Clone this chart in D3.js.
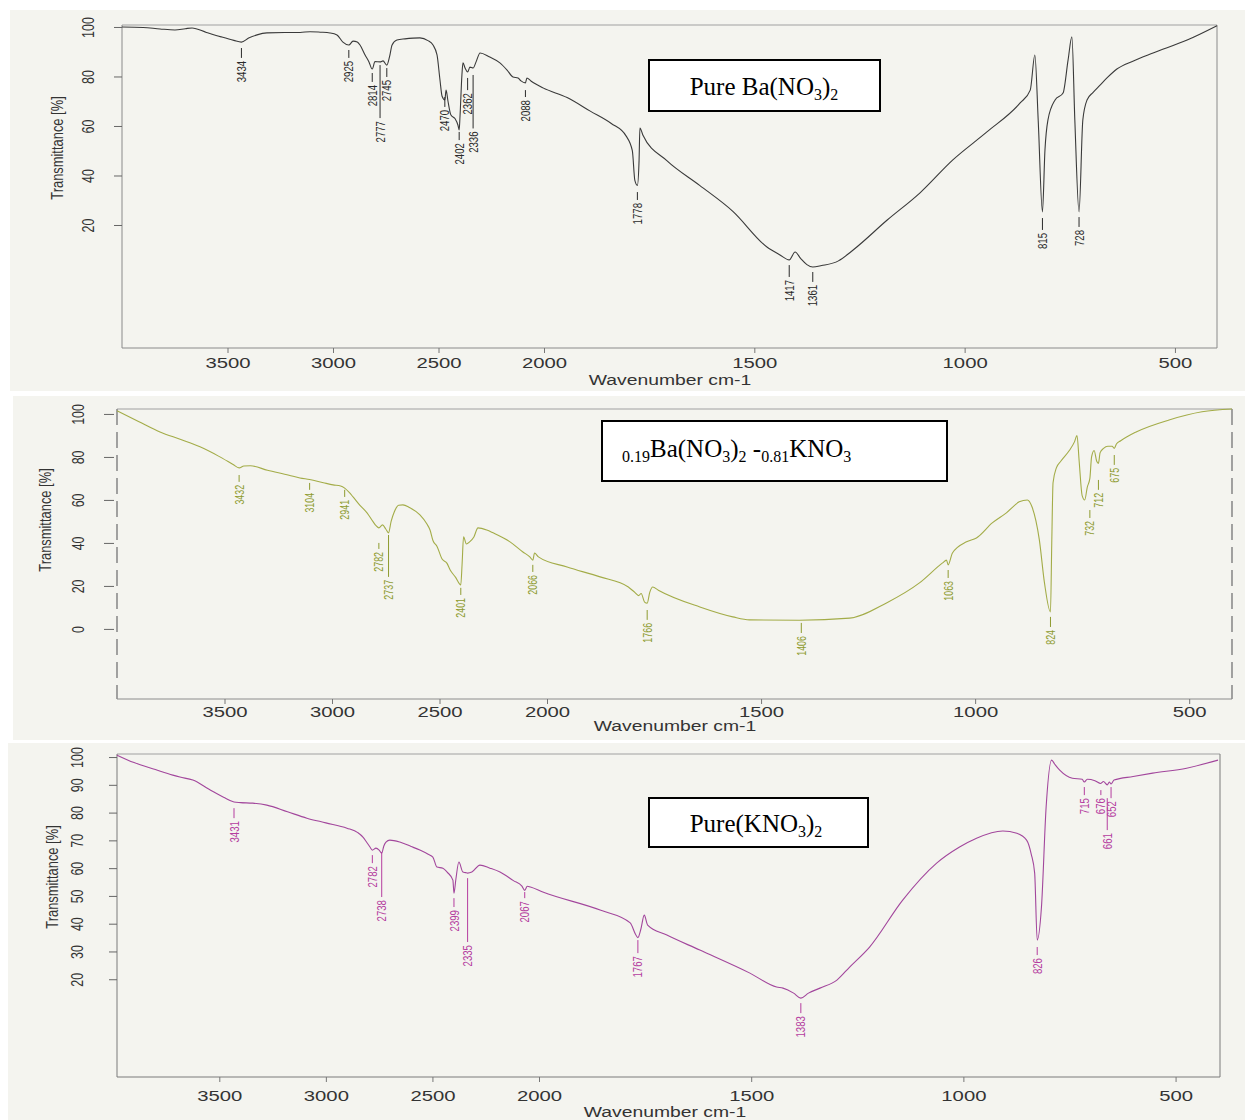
<!DOCTYPE html>
<html>
<head>
<meta charset="utf-8">
<script src="https://cdn.jsdelivr.net/npm/d3@7"></script>
<style>
	body{margin:0;background:#fff;}
	svg{display:block;}
</style>
</head>
<body>
<svg id="chart" width="1245" height="1120"></svg>
<script>
// ---- data: [wavenumber, transmittance %] ----
const baNitrate = [
	[4000,100],[3900,99.8],[3820,99.2],[3749,98.8],[3700,99.3],[3668,99.6],[3600,97.8],[3530,96],[3470,94.6],[3434,93.9],
	[3400,95.5],[3360,96.8],[3313,97.6],[3230,97.8],[3156,97.8],[3109,98.1],[3060,97.9],[3014,97.6],[2981,96.8],[2953,93.9],
	[2925,92.7],[2905,94.3],[2885,93.9],[2872,92.7],[2848,88.7],[2830,86],[2814,83],[2801,86],[2777,85.9],[2763,86.3],
	[2745,84.6],[2732,88],[2720,92.7],[2697,94.7],[2659,95.2],[2620,95.5],[2588,95.6],[2550,94.5],[2526,92.7],[2507,88.7],
	[2493,78.6],[2483,72],[2470,70.5],[2464,74.5],[2455,70],[2441,64.4],[2422,63],[2408,60.4],[2402,58.4],[2398,64],
	[2389,80.6],[2384,85.5],[2374,83.4],[2362,81.8],[2351,83.8],[2336,83.4],[2322,85.9],[2303,89.5],[2260,88],[2209,85.5],
	[2175,82.6],[2147,79.8],[2123,79.4],[2109,78.2],[2088,77.4],[2081,79.4],[2062,78.2],[2005,75.4],[1945,71.5],[1890,66],
	[1840,61],[1805,56],[1790,50],[1784,38],[1778,36],[1774,46],[1772,59.2],[1765,56.4],[1708,46],[1630,36],
	[1551,25.5],[1470,11.1],[1439,7.9],[1417,5.9],[1403,9.1],[1390,6.5],[1375,4],[1361,3],[1340,3.6],[1300,5.5],
	[1265,9.9],[1184,22],[1106,33],[1028,46.3],[947,57.6],[868,69.3],[844,74.5],[833,88.7],[825,62],[815,25.3],
	[809,50.3],[802,62.4],[785,70.5],[766,73.3],[754,86.7],[745,96],[738,62.4],[728,25.3],[719,62.4],[709,70.5],
	[695,73.5],[678,76.5],[661,79.5],[638,83],[600,86.2],[552,89.5],[471,94.7],[400,100.5]
];
const mixNitrate = [
	[4000,101.5],[3900,96.5],[3800,91.6],[3700,88],[3614,84.7],[3530,80.5],[3460,76.5],[3432,74.9],[3410,75.8],[3380,75.9],
	[3300,73.8],[3200,71.5],[3149,70.2],[3104,69.5],[3040,68],[2995,67],[2960,66.5],[2941,65.5],[2920,63.5],[2902,61.4],
	[2870,57.5],[2837,54],[2810,50],[2795,48],[2782,47],[2765,48.4],[2750,46.5],[2737,44.7],[2725,50],[2710,54.5],
	[2690,57.5],[2670,57.7],[2640,56.5],[2591,53],[2560,49],[2544,46],[2530,41],[2512,38.5],[2488,32.5],[2465,30.5],
	[2451,27.5],[2425,24],[2401,20.5],[2395,30],[2388,42.8],[2375,39.5],[2360,40.5],[2340,42.8],[2321,47],[2280,46],
	[2251,44.7],[2172,40.5],[2112,35.8],[2080,33.5],[2066,32],[2058,35.3],[2040,33.5],[1953,28.8],[1876,24.2],[1810,19.5],
	[1795,17],[1786,15.5],[1780,16.5],[1772,12.5],[1766,12],[1760,17],[1753,19.5],[1740,18],[1643,10.2],[1566,5.6],
	[1527,4.2],[1410,4],[1293,5],[1207,12.1],[1130,21.4],[1076,30.7],[1067,32],[1063,29.8],[1053,35.3],[1020,40.5],
	[997,42.3],[960,49.3],[927,54],[897,59.1],[878,60],[867,56.7],[850,41.4],[838,21.4],[824,7.9],[821,40],
	[818,68],[810,75],[800,78],[780,83],[768,87],[762,90],[757,78],[750,62],[744,60],[738,66],
	[732,70],[728,80],[722,83],[716,78],[712,77],[708,82],[700,84],[690,85],[680,85],[675,84],
	[670,86],[660,87.5],[624,91.6],[547,97.2],[470,101],[400,102.3]
];
const kNitrate = [
	[3980,100.7],[3900,98],[3800,95.5],[3718,93.5],[3685,92.8],[3624,91.7],[3550,88.5],[3480,85.5],[3431,83.8],[3400,83.6],
	[3343,83.4],[3277,82.7],[3180,80.3],[3089,78],[3000,76.3],[2901,74.4],[2850,72.8],[2826,71.2],[2810,69.5],[2793,67.6],
	[2782,66.5],[2765,67.2],[2750,66.5],[2738,65.4],[2728,68],[2718,69.4],[2700,70.1],[2653,69.4],[2600,67.8],[2559,66.5],
	[2520,65],[2498,64],[2479,60.4],[2451,60],[2430,58.5],[2404,55.7],[2399,51],[2390,56],[2376,62.2],[2357,58.6],
	[2345,58.4],[2335,58.2],[2315,58.6],[2277,61.1],[2230,60],[2183,58.6],[2120,55.5],[2080,53.5],[2067,52],[2055,53.5],
	[2040,53.2],[1991,51.4],[1856,44.9],[1785,40.3],[1772,36],[1767,35],[1760,38],[1752,43.1],[1744,39.5],[1700,36],
	[1621,30.5],[1503,22.2],[1440,17.2],[1425,16.8],[1400,15],[1383,13.2],[1365,15],[1338,16.8],[1298,19.7],[1268,24.4],
	[1221,31.6],[1143,48.5],[1063,61.8],[1009,67.6],[969,70.8],[907,73.4],[874,72.6],[851,70.1],[840,65],[832,58.2],
	[826,34.1],[816,46],[805,82],[792,98.9],[785,97.5],[773,95.3],[743,92.4],[720,92],[715,91],[708,92],
	[690,91.5],[676,90.5],[670,91.2],[661,90],[656,91],[652,90.3],[645,91.7],[600,93],[554,94.2],[474,96],
	[400,98.9]
];

// peak annotations: [wavenumber, dash top T, dash bottom T]
const baPeaks = [
	[3434,91.5,87.5],[2925,90.7,87.5],[2814,81.4,77.8],[2777,84.6,63.2],[2745,83.4,79.8],[2470,71.7,67.7],
	[2402,57.6,54.3],[2362,79.4,74.5],[2336,80.6,59],[2088,74.5,71.7],[1778,33.3,30.1],[1417,3.8,-1],
	[1361,1,-3],[815,22.8,18],[728,23.2,19.2]
];
const mixPeaks = [
	[3432,71.6,68.4],[3104,67.9,64.7],[2941,64.7,61.4],[2782,40,37.2],[2737,43.7,24.2],[2401,19.1,15.8],
	[2066,29.8,26.5],[1766,8.8,4.2],[1406,2.8,-1.9],[1063,27.4,23.7],[824,5.6,0.9],[732,55.3,51.6],
	[712,69.3,64.7],[675,80.9,76.3]
];
const kPeaks = [
	[3431,81.6,78],[2782,64.7,61.8],[2738,65.8,49.6],[2399,49.2,46],[2335,56.4,33.4],[2067,51.4,49.2],
	[1767,34.1,29.4],[1383,11.4,7.8],[826,31.6,28.7],[715,89.2,86.3],[676,88.1,86.3],[652,89.2,85.2],
	[661,85.2,73.7]
];

const xTicks = [3500,3000,2500,2000,1500,1000,500];
const yTicksBa = [20,40,60,80,100];
const yTicksMix = [0,20,40,60,80,100];
const yTicksK = [20,30,40,50,60,70,80,90,100];

// ---- layout ----
const panels = [
	{series:baNitrate, peaks:baPeaks, yTicks:yTicksBa,
	 bg:[10,10,1235,381], l:122, r:1217, t:25, b:348, xd:[4000,2000,400], xr:[122,544,1217], yd:[-29.7,100.8],
	 line:'#3a3a3a', ink:'#2a2a2a', frame:'#8a8a8a', dashed:false,
	 yLab:-34, yTitle:[57,148], tickLen:8, xLabY:20, xTitle:[670,385], lblSize:13,
	 box:{x:649,y:60,w:231,h:51}},
	{series:mixNitrate, peaks:mixPeaks, yTicks:yTicksMix,
	 bg:[13,396,1232,344], l:117, r:1232, t:409, b:699, xd:[4000,2000,400], xr:[117,547,1232], yd:[-32.6,102.3],
	 line:'#a3ac48', ink:'#8e9b30', frame:'#8c8c8c', dashed:true,
	 yLab:-39, yTitle:[45,520], tickLen:10, xLabY:18, xTitle:[675,731], lblSize:12,
	 box:{x:602,y:421,w:345,h:60}},
	{series:kNitrate, peaks:kPeaks, yTicks:yTicksK,
	 bg:[8,743,1237,377], l:117, r:1220, t:754, b:1077, xd:[3980,2000,400], xr:[117,539,1218], yd:[-15.2,101.1],
	 line:'#a2469c', ink:'#b53d9f', frame:'#7a7a7a', dashed:false,
	 yLab:-40, yTitle:[52,877], tickLen:8, xLabY:24, xTitle:[665,1117], lblSize:13,
	 box:{x:649,y:798,w:219,h:49}}
];

const svg = d3.select('#chart');
const sans = 'Liberation Sans, Arial, sans-serif';
const serif = 'Liberation Serif, Times New Roman, serif';

panels.forEach((p,pi)=>{
	const g = svg.append('g').classed('panel',true);
	g.append('rect')
		.attr('x',p.bg[0]).attr('y',p.bg[1]).attr('width',p.bg[2]).attr('height',p.bg[3])
		.attr('fill','#f4f4ef');

	const x = d3.scaleLinear().domain(p.xd).range(p.xr);
	const y = d3.scaleLinear().domain(p.yd).range([p.b,p.t]);

	// frame
	const fr = g.append('g').attr('stroke',p.frame).attr('fill','none');
	fr.append('line').attr('x1',p.l).attr('x2',p.r).attr('y1',p.t).attr('y2',p.t).attr('stroke','#a0a0a0');
	fr.append('line').attr('x1',p.l).attr('x2',p.r).attr('y1',p.b).attr('y2',p.b);
	fr.append('line').attr('x1',p.l).attr('x2',p.l).attr('y1',p.t).attr('y2',p.b)
		.attr('stroke-dasharray',p.dashed ? '16,7' : null).attr('stroke-width',p.dashed?1.6:1);
	fr.append('line').attr('x1',p.r).attr('x2',p.r).attr('y1',p.t).attr('y2',p.b)
		.attr('stroke-dasharray',p.dashed ? '16,7' : null).attr('stroke-width',p.dashed?1.6:1);

	// x axis
	const xa = g.append('g')
		.attr('transform',`translate(0,${p.b})`)
		.call(d3.axisBottom(x).tickValues(xTicks).tickSize(5).tickFormat(d3.format('d')));
	xa.select('.domain').remove();
	xa.selectAll('line').attr('stroke','#777');
	xa.selectAll('text')
		.attr('y',p.xLabY).attr('dy',0)
		.attr('transform','scale(1.45,1)')
		.attr('font-family',sans).attr('font-size',14).attr('fill','#333');

	g.append('text')
		.attr('transform',`translate(${p.xTitle[0]},${p.xTitle[1]}) scale(1.38,1)`)
		.attr('text-anchor','middle')
		.attr('font-family',sans).attr('font-size',14).attr('fill','#333')
		.text('Wavenumber cm-1');

	// y axis
	const ya = g.append('g')
		.attr('transform',`translate(${p.l - (p.dashed?3:0)},0)`)
		.call(d3.axisLeft(y).tickValues(p.yTicks).tickSize(p.tickLen));
	ya.select('.domain').remove();
	ya.selectAll('line').attr('stroke','#666');
	ya.selectAll('text')
		.attr('x',0).attr('dy',0)
		.attr('text-anchor','middle')
		.attr('dominant-baseline','central')
		.attr('transform',`translate(${p.yLab + (p.dashed?3:0)},0) rotate(-90) scale(0.78,1)`)
		.attr('font-family',sans).attr('font-size',16).attr('fill','#333');

	g.append('text')
		.attr('transform',`translate(${p.yTitle[0]},${p.yTitle[1]}) rotate(-90) scale(0.76,1)`)
		.attr('text-anchor','middle').attr('dominant-baseline','central')
		.attr('font-family',sans).attr('font-size',17).attr('fill','#333')
		.text('Transmittance [%]');

	// spectrum
	const line = d3.line().curve(d3.curveMonotoneX).x(d=>x(d[0])).y(d=>y(d[1]));
	g.append('path')
		.datum(p.series)
		.attr('d',line)
		.attr('fill','none').attr('stroke',p.line).attr('stroke-width',1.1)
		.attr('stroke-linejoin','round');

	// peak labels
	const pk = g.append('g').selectAll('g').data(p.peaks).join('g');
	pk.append('line')
		.attr('x1',d=>x(d[0])).attr('x2',d=>x(d[0]))
		.attr('y1',d=>y(d[1])).attr('y2',d=>y(d[2]))
		.attr('stroke',p.ink).attr('stroke-width',1);
	pk.append('text')
		.attr('transform',d=>`translate(${x(d[0])},${y(d[2])+3}) rotate(-90) scale(0.74,1)`)
		.attr('text-anchor','end').attr('dominant-baseline','central')
		.attr('font-family',sans).attr('font-size',p.lblSize).attr('fill',p.ink)
		.text(d=>d[0]);

	// name box
	g.append('rect')
		.attr('x',p.box.x).attr('y',p.box.y).attr('width',p.box.w).attr('height',p.box.h)
		.attr('fill','#fff').attr('stroke','#000').attr('stroke-width',2);
});

// box captions with subscripts
function caption(xpos,ypos,parts,anchor){
	const t = svg.append('text')
		.attr('x',xpos).attr('y',ypos)
		.attr('text-anchor',anchor)
		.attr('font-family',serif).attr('fill','#000');
	let shift = 0;
	parts.forEach(([s,sub])=>{
		const want = sub ? 5 : 0;
		t.append('tspan')
			.attr('dy',want-shift)
			.attr('font-size',sub?16:25)
			.text(s);
		shift = want;
	});
}
caption(764,95,[['Pure Ba(NO',0],['3',1],[')',0],['2',1]],'middle');
caption(622,457,[['0.19',1],['Ba(NO',0],['3',1],[')',0],['2',1],[' -',0],['0.81',1],['KNO',0],['3',1]],'start');
caption(756,832,[['Pure(KNO',0],['3',1],[')',0],['2',1]],'middle');
</script>
</body>
</html>
